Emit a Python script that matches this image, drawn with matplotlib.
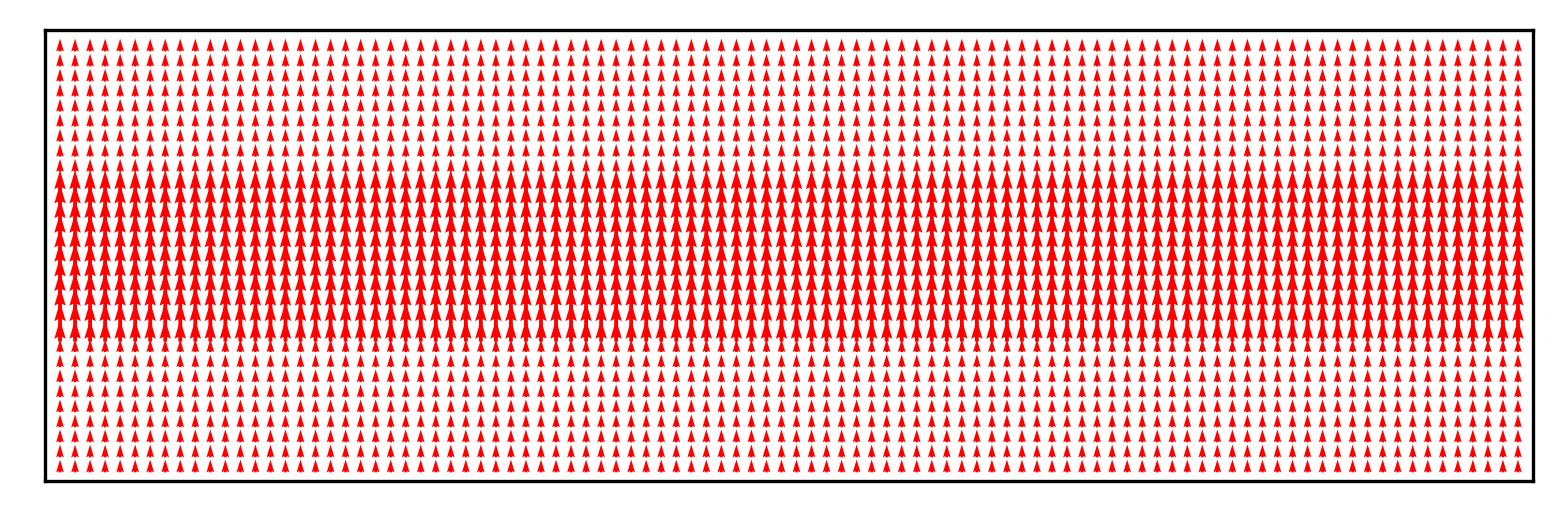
import numpy as np
import matplotlib
matplotlib.use('Agg')
from matplotlib import pyplot as plt

# grid of arrow positions
n_cols = 98
n_rows = 29

# vertical speed for each row (bottom to top), horizontal speed is zero
v_rows = [0.85, 0.85, 0.85, 0.85, 0.85, 0.85, 0.85, 0.85, 0.85,
          1.45, 1.8, 1.85, 1.8, 1.75, 1.7, 1.6, 1.55, 1.5, 1.45, 1.35,
          0.85, 0.85, 0.85, 0.85, 0.85, 0.85, 0.85, 0.85, 0.85]

x = np.arange(n_cols)
y = np.arange(n_rows)
X, Y = np.meshgrid(x, y)
V = np.tile(np.array(v_rows)[:, None], (1, n_cols))
U = np.zeros_like(V)

fig = plt.figure(figsize=(1562 / 300, 525 / 300), dpi=300)
ax = fig.add_axes([45 / 1562, 44 / 525, 1488 / 1562, 451 / 525])

ax.quiver(X, Y, U, V, color='red', pivot='mid',
          units='dots', width=3.8, scale_units='y', scale=1)

ax.set_xlim(-1, n_cols)
ax.set_ylim(-1, n_rows)
ax.set_xticks([])
ax.set_yticks([])

plt.savefig('out.png', dpi=300)
